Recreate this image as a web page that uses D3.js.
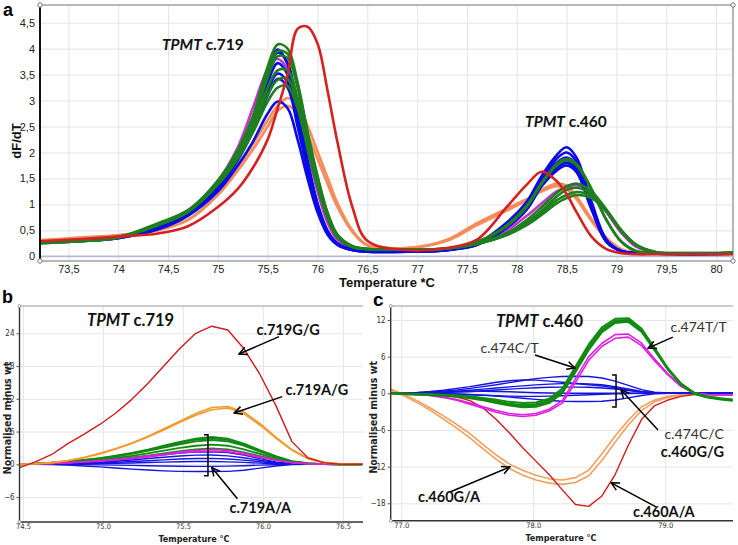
<!DOCTYPE html>
<html><head><meta charset="utf-8">
<script src="https://cdn.jsdelivr.net/npm/d3@7"></script>
<style>body{margin:0;background:#fff}svg{display:block}</style>
</head><body>
<svg id="c" width="738" height="545"></svg>
<script>
// ---------------- Panel a data ----------------
const aTemp = [73.2,73.6,74.0,74.4,74.7,75.0,75.2,75.35,75.5,75.6,75.7,75.8,75.9,76.0,76.1,76.2,76.35,76.5,76.9,77.3,77.6,77.9,78.1,78.25,78.4,78.5,78.6,78.75,78.9,79.05,79.2,79.4,80.17];
const aXTicks = [73.5,74,74.5,75,75.5,76,76.5,77,77.5,78,78.5,79,79.5,80];
const aYTicks = [0,0.5,1,1.5,2,2.5,3,3.5,4,4.5];
const aSalmon = [
 [0.30,0.35,0.40,0.50,0.70,1.20,1.70,2.15,2.62,2.90,3.05,2.92,2.52,2.02,1.52,1.02,0.50,0.22,0.16,0.30,0.60,0.88,1.08,1.28,1.40,1.36,1.15,0.72,0.36,0.14,0.07,0.05,0.05],
 [0.31,0.36,0.41,0.51,0.70,1.18,1.65,2.05,2.50,2.80,2.90,2.75,2.35,1.88,1.40,0.95,0.47,0.21,0.16,0.32,0.64,0.92,1.10,1.25,1.35,1.30,1.10,0.68,0.34,0.13,0.07,0.05,0.05]
];
const aMagenta = [
 [0.27,0.31,0.38,0.58,0.85,1.45,2.10,2.85,3.60,3.80,3.60,2.95,2.05,1.25,0.65,0.32,0.16,0.12,0.12,0.15,0.27,0.50,0.78,1.02,1.25,1.33,1.37,1.22,0.85,0.45,0.18,0.07,0.07]
];
const aBlue = [
 [0.27,0.30,0.36,0.55,0.82,1.35,1.95,2.60,3.55,3.98,3.70,2.80,1.80,1.00,0.48,0.24,0.13,0.10,0.10,0.13,0.25,0.65,1.05,1.55,1.95,2.10,1.90,1.05,0.32,0.10,0.06,0.05,0.05],
 [0.28,0.31,0.37,0.56,0.84,1.38,1.98,2.62,3.50,3.92,3.72,2.85,1.85,1.02,0.50,0.25,0.13,0.10,0.10,0.13,0.24,0.62,1.00,1.50,1.88,2.00,1.82,1.00,0.30,0.10,0.06,0.05,0.05],
 [0.26,0.29,0.35,0.53,0.80,1.32,1.90,2.50,3.35,3.72,3.50,2.70,1.75,0.98,0.47,0.24,0.13,0.10,0.10,0.13,0.24,0.60,0.98,1.45,1.80,1.90,1.75,0.98,0.30,0.10,0.06,0.05,0.05],
 [0.27,0.30,0.36,0.54,0.81,1.33,1.88,2.45,3.20,3.52,3.35,2.60,1.70,0.95,0.46,0.23,0.12,0.09,0.09,0.12,0.23,0.58,0.95,1.40,1.75,1.85,1.70,0.95,0.29,0.10,0.06,0.05,0.05],
 [0.28,0.30,0.36,0.54,0.80,1.30,1.85,2.40,3.10,3.42,3.25,2.50,1.65,0.92,0.45,0.23,0.12,0.09,0.09,0.12,0.22,0.56,0.92,1.38,1.70,1.80,1.66,0.92,0.28,0.10,0.06,0.05,0.05],
 [0.27,0.29,0.35,0.52,0.78,1.25,1.75,2.20,2.75,2.98,2.85,2.25,1.50,0.85,0.42,0.22,0.12,0.09,0.09,0.12,0.22,0.55,0.90,1.35,1.65,1.75,1.62,0.90,0.28,0.10,0.06,0.05,0.05]
];
const aGreen = [
 [0.25,0.29,0.37,0.62,0.88,1.46,2.05,2.70,3.65,4.08,4.00,3.35,2.40,1.55,0.85,0.42,0.20,0.14,0.13,0.15,0.28,0.60,0.98,1.42,1.78,1.88,1.78,1.30,0.70,0.28,0.10,0.07,0.07],
 [0.26,0.30,0.37,0.60,0.86,1.43,2.02,2.65,3.55,3.95,3.90,3.30,2.38,1.52,0.83,0.41,0.19,0.14,0.13,0.15,0.27,0.58,0.95,1.40,1.75,1.85,1.75,1.28,0.70,0.28,0.10,0.07,0.07],
 [0.25,0.29,0.36,0.64,0.89,1.45,2.00,2.60,3.45,3.85,3.82,3.25,2.35,1.50,0.82,0.40,0.19,0.14,0.13,0.15,0.25,0.45,0.70,0.95,1.22,1.35,1.40,1.25,0.90,0.50,0.22,0.08,0.07],
 [0.26,0.30,0.37,0.62,0.87,1.42,1.95,2.52,3.25,3.58,3.58,3.05,2.22,1.42,0.78,0.38,0.18,0.14,0.13,0.15,0.24,0.42,0.63,0.85,1.08,1.18,1.24,1.16,0.88,0.50,0.22,0.08,0.07],
 [0.25,0.29,0.36,0.61,0.86,1.40,1.92,2.45,3.12,3.40,3.42,2.95,2.15,1.38,0.76,0.37,0.18,0.14,0.13,0.15,0.24,0.41,0.60,0.80,1.02,1.12,1.18,1.12,0.86,0.48,0.21,0.08,0.07],
 [0.26,0.30,0.37,0.60,0.85,1.38,1.88,2.38,2.98,3.25,3.28,2.85,2.08,1.34,0.74,0.36,0.18,0.14,0.13,0.15,0.24,0.42,0.65,0.88,1.15,1.28,1.32,1.20,0.88,0.49,0.21,0.08,0.07]
];
const aRed = [
 [0.29,0.33,0.38,0.44,0.58,0.95,1.30,1.70,2.25,2.85,3.50,4.38,4.42,4.10,3.20,2.20,0.95,0.30,0.12,0.16,0.32,0.95,1.38,1.63,1.45,1.20,0.85,0.38,0.14,0.06,0.04,0.04,0.04]
];

// ---------------- Panel b data ----------------
const bTemp = [74.48,74.58,74.68,74.78,74.88,74.98,75.08,75.18,75.28,75.38,75.48,75.58,75.68,75.78,75.88,75.98,76.08,76.18,76.28,76.38,76.48,76.58,76.62];
const bXTicks = [74.5,75.0,75.5,76.0,76.5];
const bYTicks = [-6,0,6,12,18,24];
const bBlue = [
 [0,0,0.05,0.15,0.3,0.5,0.75,1.05,1.4,1.75,2.05,2.25,2.3,2.15,1.7,1.05,0.45,0.1,0,0,0,0,0],
 [0,0,0.04,0.12,0.22,0.38,0.56,0.78,1.05,1.3,1.52,1.68,1.7,1.55,1.2,0.75,0.32,0.08,0,0,0,0,0],
 [0,0,0.02,0.08,0.15,0.25,0.36,0.5,0.66,0.82,0.96,1.06,1.08,0.98,0.76,0.48,0.2,0.05,0,0,0,0,0],
 [0,0,0.01,0.04,0.08,0.12,0.18,0.25,0.32,0.4,0.46,0.5,0.5,0.45,0.35,0.22,0.1,0.02,0,0,0,0,0],
 [0,0,-0.01,-0.03,-0.06,-0.1,-0.15,-0.2,-0.26,-0.32,-0.36,-0.38,-0.38,-0.34,-0.26,-0.16,-0.07,-0.02,0,0,0,0,0],
 [0,0,-0.05,-0.15,-0.3,-0.48,-0.68,-0.88,-1.05,-1.2,-1.3,-1.32,-1.32,-1.3,-1.1,-0.7,-0.3,-0.05,0,0,0,0,0]
];
const bGreen = [
 [0,0.1,0.3,0.5,0.8,1.15,1.6,2.1,2.7,3.4,4.1,4.7,5.0,4.7,3.8,2.6,1.5,0.6,0.2,0.05,0,0,0],
 [0,0.1,0.28,0.48,0.76,1.1,1.5,2.0,2.6,3.25,3.9,4.5,4.75,4.45,3.6,2.45,1.4,0.55,0.18,0.05,0,0,0],
 [0,0.1,0.26,0.45,0.72,1.04,1.42,1.9,2.45,3.05,3.65,4.2,4.45,4.2,3.4,2.3,1.3,0.5,0.16,0.04,0,0,0],
 [0,0.08,0.22,0.38,0.6,0.86,1.18,1.55,2.0,2.5,3.0,3.4,3.6,3.4,2.75,1.9,1.05,0.42,0.14,0.04,0,0,0],
 [0,0.06,0.18,0.3,0.48,0.7,0.95,1.25,1.6,2.0,2.4,2.75,2.9,2.75,2.2,1.5,0.85,0.34,0.11,0.03,0,0,0]
];
const bMagenta = [
 [0,0.06,0.16,0.28,0.45,0.65,0.88,1.15,1.5,1.85,2.25,2.55,2.7,2.55,2.05,1.4,0.8,0.32,0.1,0.02,0,0,0],
 [0,0.05,0.14,0.25,0.4,0.58,0.8,1.05,1.35,1.7,2.05,2.3,2.42,2.3,1.85,1.25,0.72,0.28,0.08,0.02,0,0,0]
];
const bOrange = [
 [0,0.1,0.3,0.65,1.2,1.9,2.8,3.8,5.0,6.3,7.7,9.0,10.0,10.3,9.3,7.2,4.8,2.6,1.0,0.3,0.1,0,0],
 [0,0.1,0.3,0.7,1.25,2.0,2.9,3.9,5.1,6.5,7.9,9.3,10.4,10.6,9.6,7.5,5.0,2.7,1.1,0.35,0.1,0,0]
];
const bRed = [
 [-0.6,0.5,1.8,3.8,5.5,7.3,9.4,11.9,14.8,18.0,21.2,24.0,25.3,24.6,21.2,16.5,10.8,4.2,1.2,0.3,0.0,0.0,0.0]
];

// ---------------- Panel c data ----------------
const cTemp = [76.92,77.02,77.12,77.22,77.32,77.42,77.52,77.62,77.72,77.82,77.92,78.02,78.12,78.22,78.32,78.42,78.52,78.62,78.72,78.82,78.92,79.02,79.12,79.22,79.32,79.42,79.51];
const cXTicks = [77.0,78.0,79.0];
const cYTicks = [-18,-12,-6,0,6,12];
const cOrange = [
 [0.7,-0.2,-1.2,-2.4,-3.7,-5.1,-6.6,-8.4,-10.1,-11.6,-12.6,-13.4,-14.0,-14.2,-13.8,-12.6,-9.9,-7.0,-4.4,-2.2,-1.1,-0.5,-0.2,-0.1,0,0,0],
 [0.5,-0.4,-1.5,-2.8,-4.2,-5.7,-7.3,-9.1,-10.8,-12.3,-13.4,-14.2,-14.7,-14.9,-14.6,-13.5,-11.0,-8.0,-5.2,-2.8,-1.4,-0.7,-0.3,-0.1,0,0,0]
];
const cRed = [
 [0,0,-0.05,-0.1,-0.2,-0.6,-1.2,-2.4,-4.3,-6.5,-8.9,-11.1,-13.3,-15.8,-18.2,-18.5,-16.8,-13.3,-8.5,-4.3,-2.0,-1.1,-0.5,-0.2,-0.1,0,0]
];
const cBlue = [
 [0,0,0.1,0.2,0.35,0.55,0.8,1.1,1.4,1.75,2.1,2.4,2.6,2.75,2.8,2.75,2.5,2.0,1.3,0.6,0.2,0.05,0,0,0,0,0],
 [0,0.05,0.15,0.3,0.5,0.8,1.1,1.45,1.8,2.05,2.2,2.15,2.0,1.8,1.6,1.4,1.2,0.9,0.55,0.25,0.08,0,0,0,0,0,0],
 [0,0,0.05,0.12,0.22,0.35,0.5,0.68,0.88,1.05,1.22,1.38,1.5,1.58,1.6,1.55,1.4,1.1,0.7,0.32,0.1,0.02,0,0,0,0,0],
 [0,0,0.02,0.06,0.12,0.2,0.3,0.42,0.55,0.68,0.8,0.9,0.98,1.02,1.02,0.98,0.88,0.7,0.45,0.2,0.06,0,0,0,0,0,0],
 [0,0,0.05,0.1,0.18,0.25,0.3,0.32,0.3,0.25,0.18,0.1,0.05,0.02,0,0,0,0,0,0,0,0,0,0,0,0,0],
 [0,0,-0.02,-0.05,-0.1,-0.16,-0.24,-0.32,-0.4,-0.46,-0.5,-0.5,-0.46,-0.4,-0.32,-0.24,-0.16,-0.08,-0.02,0,0,0,0,0,0,0,0],
 [0,0,0,-0.02,-0.06,-0.12,-0.2,-0.3,-0.45,-0.62,-0.8,-1.0,-1.18,-1.3,-1.35,-1.35,-1.3,-1.1,-0.75,-0.35,-0.1,0,0,0,0,0,0]
];
const cMagenta = [
 [0,-0.05,-0.1,-0.3,-0.6,-1.0,-1.6,-2.2,-2.8,-3.3,-3.5,-3.3,-2.6,-1.2,2.4,6.0,8.2,9.6,9.7,8.2,5.6,3.2,1.2,0.1,-0.2,-0.3,-0.3],
 [0,-0.05,-0.12,-0.35,-0.7,-1.15,-1.8,-2.45,-3.1,-3.6,-3.8,-3.6,-2.9,-1.6,1.8,5.4,7.7,9.0,9.2,7.8,5.3,3.0,1.1,0.0,-0.2,-0.3,-0.3]
];
const cGreen = [
 [0,-0.1,-0.2,-0.3,-0.4,-0.55,-0.8,-1.15,-1.6,-2.0,-2.3,-2.2,-1.6,0.0,3.5,7.1,10.0,11.5,11.7,10.1,7.0,3.9,1.4,-0.1,-0.7,-1.0,-1.2],
 [0,-0.1,-0.18,-0.25,-0.35,-0.5,-0.7,-1.0,-1.45,-1.85,-2.1,-2.0,-1.4,0.2,3.8,7.4,10.2,11.7,11.8,10.2,7.1,3.9,1.5,0.0,-0.6,-0.9,-1.1],
 [0,-0.1,-0.15,-0.2,-0.3,-0.4,-0.6,-0.9,-1.3,-1.7,-1.9,-1.8,-1.2,0.4,4.0,7.6,10.4,11.9,12.0,10.3,7.2,4.0,1.5,0.0,-0.6,-0.9,-1.1],
 [0,-0.05,-0.1,-0.15,-0.25,-0.35,-0.5,-0.75,-1.05,-1.4,-1.6,-1.5,-0.9,0.8,4.4,8.0,10.8,12.2,12.3,10.6,7.4,4.1,1.6,0.1,-0.5,-0.8,-1.0]
];

// ---------------- Annotations (data coordinates) ----------------
const bLabels = [
 {t:"c.719G/G", x:75.96, y:23.7}, {t:"c.719A/G", x:76.14, y:12.7}, {t:"c.719A/A", x:75.79, y:-8.9}
];
const bArrows = [
 {x1:76.10,y1:23.4,x2:75.85,y2:20.2}, {x1:76.12,y1:12.4,x2:75.82,y2:9.4}, {x1:75.84,y1:-6.3,x2:75.68,y2:-0.6}
];
const bBracket = {x:75.656, y1:5.4, y2:-2.1};
const cLabels = [
 {t:"c.474T/T", x:79.04, y:10.0, b:false}, {t:"c.474C/T", x:77.60, y:6.6, b:false},
 {t:"c.474C/C", x:78.995, y:-7.4, b:false}, {t:"c.460G/G", x:78.966, y:-10.5, b:true},
 {t:"c.460G/A", x:77.126, y:-17.8, b:true}, {t:"c.460A/A", x:78.755, y:-20.24, b:true}
];
const cArrows = [
 {x1:79.057,y1:9.2,x2:78.87,y2:7.4}, {x1:78.013,y1:6.27,x2:78.316,y2:4.14},
 {x1:78.945,y1:-6.0,x2:78.665,y2:0.54}, {x1:77.369,y1:-16.15,x2:77.823,y2:-12.06},
 {x1:78.93,y1:-18.6,x2:78.59,y2:-14.65}
];
const cBracket = {x:78.627, y1:3.0, y2:-2.24};

// ---------------- Drawing ----------------
const svg = d3.select('#c');
const NARROW = '"Liberation Sans Narrow","DejaVu Sans Condensed","Arial Narrow",sans-serif';
const SANS = '"Liberation Sans",Arial,sans-serif';
const LAB = 'Lato,"Open Sans",sans-serif';
const defs = svg.append('defs');
defs.append('marker').attr('id','ah').attr('viewBox','0 0 10 10').attr('refX',9).attr('refY',5)
  .attr('markerWidth',10).attr('markerHeight',10).attr('markerUnits','userSpaceOnUse').attr('orient','auto')
  .append('path').attr('d','M1,1 L9,5 L1,9').attr('fill','none').attr('stroke','#000').attr('stroke-width',1.5);

function pts(xs, ys){ const n=Math.min(xs.length, ys.length); const r=[]; for(let i=0;i<n;i++) r.push([xs[i],ys[i]]); return r; }
function drawSet(g, line, xs, sets, color, w){
  g.append('g').selectAll('path').data(sets).join('path')
   .attr('d', d=>line(pts(xs,d))).attr('fill','none').attr('stroke',color).attr('stroke-width',w)
   .attr('stroke-linejoin','round');
}
const comma = d => String(d).replace('.', ',');

// ===== Panel a =====
const ax = d3.scaleLinear().domain([73.215, 80.17]).range([40, 733]);
const ay = d3.scaleLinear().domain([-0.09, 4.84]).range([261, 5]);
const ga = svg.append('g');
ga.append('g').attr('transform','translate(0,261)')
  .call(d3.axisBottom(ax).tickValues(aXTicks).tickSize(-256).tickFormat(''))
  .call(g=>{g.select('.domain').remove(); g.selectAll('line').attr('stroke','#e4e4e4');});
ga.append('g').attr('transform','translate(40,0)')
  .call(d3.axisLeft(ay).tickValues(aYTicks.filter(v=>v>0)).tickSize(-693).tickFormat(''))
  .call(g=>{g.select('.domain').remove(); g.selectAll('line').attr('stroke','#e4e4e4');});
ga.append('rect').attr('x',40).attr('y',5).attr('width',693).attr('height',256).attr('fill','none').attr('stroke','#888').attr('stroke-width',1.2);
ga.append('line').attr('x1',40).attr('x2',733).attr('y1',ay(0)).attr('y2',ay(0)).attr('stroke','#b4bcd6').attr('stroke-width',1.6);
const lineA = d3.line().x(d=>ax(d[0])).y(d=>ay(d[1])).curve(d3.curveCatmullRom.alpha(0.5));
const clipA = defs.append('clipPath').attr('id','clipA'); clipA.append('rect').attr('x',40).attr('y',5).attr('width',693).attr('height',256);
const curvesA = ga.append('g').attr('clip-path','url(#clipA)');
drawSet(curvesA, lineA, aTemp, aSalmon, '#f48c5c', 2.6);
drawSet(curvesA, lineA, aTemp, aMagenta, '#c832d2', 2.6);
drawSet(curvesA, lineA, aTemp, aBlue, '#0a0ae6', 2.6);
drawSet(curvesA, lineA, aTemp, aGreen, '#1f7f1f', 2.6);
drawSet(curvesA, lineA, aTemp, aRed, '#d42222', 2.6);
ga.append('line').attr('x1',40).attr('x2',40).attr('y1',5).attr('y2',261).attr('stroke','#111').attr('stroke-width',2);
[[40,5],[733,5],[40,261],[733,261]].forEach(p=>ga.append('circle').attr('cx',p[0]).attr('cy',p[1]).attr('r',2.2).attr('fill','#fff').attr('stroke','#777'));
ga.append('g').attr('transform','translate(40,0)')
  .call(d3.axisLeft(ay).tickValues(aYTicks).tickSize(0).tickPadding(5).tickFormat(comma))
  .call(g=>{g.select('.domain').remove(); g.selectAll('text').attr('font-size',11).attr('font-family',SANS).attr('fill','#222');});
ga.append('g').attr('transform','translate(0,261)')
  .call(d3.axisBottom(ax).tickValues(aXTicks).tickSize(0).tickPadding(4).tickFormat(comma))
  .call(g=>{g.select('.domain').remove(); g.selectAll('text').attr('font-size',11).attr('font-family',SANS).attr('fill','#222');});
ga.append('text').attr('x',387).attr('y',287).attr('text-anchor','middle').attr('font-family',SANS).attr('font-weight','bold').attr('font-size',13).attr('fill','#111').text('Temperature *C');
ga.append('text').attr('transform','translate(21,141) rotate(-90)').attr('text-anchor','middle').attr('font-family',SANS).attr('font-weight','bold').attr('font-size',13).attr('fill','#111').text('dF/dT');
ga.append('text').attr('x',3).attr('y',16).attr('font-family',SANS).attr('font-weight','bold').attr('font-size',18).text('a');
function tpmt(g, x, y, rest, size){
  const t = g.append('text').attr('x',x).attr('y',y).attr('font-family',LAB).attr('font-weight','bold').attr('font-size',size).attr('fill','#111');
  t.append('tspan').attr('font-style','italic').text('TPMT');
  t.append('tspan').text(' ' + rest);
}
tpmt(ga, ax(74.439), ay(3.974), 'c.719', 15.5);
tpmt(ga, ax(78.083), ay(2.49), 'c.460', 15.5);

// ===== Panel b / c helpers =====
function smallPanel(opts){
  const g = svg.append('g');
  const x = d3.scaleLinear().domain(opts.xd).range([opts.l, opts.r]);
  const y = d3.scaleLinear().domain(opts.yd).range([opts.b, opts.t]);
  g.append('g').attr('transform',`translate(0,${opts.b})`)
   .call(d3.axisBottom(x).tickValues(opts.xt).tickSize(-(opts.b-opts.t)).tickFormat(''))
   .call(s=>{s.select('.domain').remove(); s.selectAll('line').attr('stroke','#e6e6e6');});
  g.append('g').attr('transform',`translate(${opts.l},0)`)
   .call(d3.axisLeft(y).tickValues(opts.yt).tickSize(-(opts.r-opts.l)).tickFormat(''))
   .call(s=>{s.select('.domain').remove(); s.selectAll('line').attr('stroke','#e6e6e6');});
  g.append('line').attr('x1',opts.l).attr('x2',opts.r).attr('y1',opts.t).attr('y2',opts.t).attr('stroke','#999').attr('stroke-width',1);
  const clipId = 'clip'+opts.id;
  defs.append('clipPath').attr('id',clipId).append('rect').attr('x',opts.l).attr('y',opts.t).attr('width',opts.r-opts.l).attr('height',opts.b-opts.t);
  const cg = g.append('g').attr('clip-path',`url(#${clipId})`);
  const line = d3.line().x(d=>x(d[0])).y(d=>y(d[1])).curve(d3.curveLinear);
  opts.series.forEach(s=>drawSet(cg, line, opts.xs, s.data, s.color, s.w));
  g.append('line').attr('x1',opts.l).attr('x2',opts.l).attr('y1',opts.t).attr('y2',opts.b).attr('stroke','#333').attr('stroke-width',1.4);
  g.append('line').attr('x1',opts.l).attr('x2',opts.r).attr('y1',opts.b).attr('y2',opts.b).attr('stroke','#333').attr('stroke-width',1.6);
  [[opts.l,opts.t],[opts.l,opts.b]].forEach(p=>g.append('circle').attr('cx',p[0]).attr('cy',p[1]).attr('r',1.5).attr('fill','#fff').attr('stroke','#888').attr('stroke-width',0.8));
  g.append('g').attr('transform',`translate(${opts.l},0)`)
   .call(d3.axisLeft(y).tickValues(opts.yt).tickSize(3).tickPadding(2).tickFormat(d3.format('d')))
   .call(s=>{s.select('.domain').remove(); s.selectAll('line').attr('stroke','#555');
             s.selectAll('text').attr('font-size',8).attr('font-family',NARROW).attr('fill','#333');});
  g.append('g').attr('transform',`translate(0,${opts.b})`)
   .call(d3.axisBottom(x).tickValues(opts.xt).tickSize(0).tickPadding(2).tickFormat(d3.format('.1f')))
   .call(s=>{s.select('.domain').remove(); s.selectAll('text').attr('font-size',7.5).attr('font-family',NARROW).attr('fill','#333');});
  g.append('text').attr('x',opts.tx).attr('y',opts.b+20).attr('text-anchor','middle')
   .attr('font-family',NARROW).attr('font-weight','bold').attr('font-size',9).attr('fill','#222').text('Temperature \u00B0C');
  g.append('text').attr('transform',`translate(${opts.yl},${(opts.t+opts.b)/2+4}) rotate(-90)`).attr('text-anchor','middle')
   .attr('font-family',NARROW).attr('font-weight','bold').attr('font-size',10.5).attr('fill','#222').text('Normalised minus wt');
  // annotations
  opts.arrows.forEach(a=>g.append('line').attr('x1',x(a.x1)).attr('y1',y(a.y1)).attr('x2',x(a.x2)).attr('y2',y(a.y2))
     .attr('stroke','#000').attr('stroke-width',1.5).attr('marker-end','url(#ah)'));
  const bx = x(opts.bracket.x), by1 = y(opts.bracket.y1), by2 = y(opts.bracket.y2);
  g.append('path').attr('d',`M${bx-4},${by1} L${bx},${by1} L${bx},${by2} L${bx-4},${by2}`).attr('fill','none').attr('stroke','#000').attr('stroke-width',1.5);
  opts.labels.forEach(l=>g.append('text').attr('x',x(l.x)).attr('y',y(l.y)).attr('font-family',LAB)
     .attr('font-weight',l.b===false?'normal':'bold').attr('font-size',l.b===false?14:14.5).attr('fill',l.b===false?'#333':'#111').text(l.t));
  return {g,x,y};
}

const pb = smallPanel({id:'b', xd:[74.478,76.625], yd:[-10.57,29.0], l:19.5, r:363, t:306, b:522,
  xt:bXTicks, yt:bYTicks, xs:bTemp, yl:11, tx:194,
  series:[{data:bBlue,color:'#1414e0',w:1.4},{data:bGreen,color:'#138a13',w:1.8},{data:bMagenta,color:'#e01ee0',w:1.5},
          {data:bOrange,color:'#f39a2e',w:1.6},{data:bRed,color:'#cf1c1c',w:1.4}],
  arrows:bArrows, bracket:bBracket, labels:bLabels});
tpmt(pb.g, pb.x(74.9), pb.y(25.4), 'c.719', 16.5);
pb.g.append('text').attr('x',2).attr('y',303).attr('font-family',SANS).attr('font-weight','bold').attr('font-size',18).text('b');

const pc = smallPanel({id:'c', xd:[76.92,79.513], yd:[-20.85,14.29], l:390.7, r:733, t:306, b:520.7,
  xt:cXTicks, yt:cYTicks, xs:cTemp, yl:377, tx:561,
  series:[{data:cOrange,color:'#f0a060',w:1.6},{data:cRed,color:'#cf1c1c',w:1.4},{data:cBlue,color:'#1414e0',w:1.4},
          {data:cMagenta,color:'#e01ee0',w:1.6},{data:cGreen,color:'#138a13',w:2}],
  arrows:cArrows, bracket:cBracket, labels:cLabels});
tpmt(pc.g, pc.x(77.717), pc.y(10.85), 'c.460', 16.5);
pc.g.append('text').attr('x',373).attr('y',306).attr('font-family',SANS).attr('font-weight','bold').attr('font-size',19).text('c');
</script></body></html>
